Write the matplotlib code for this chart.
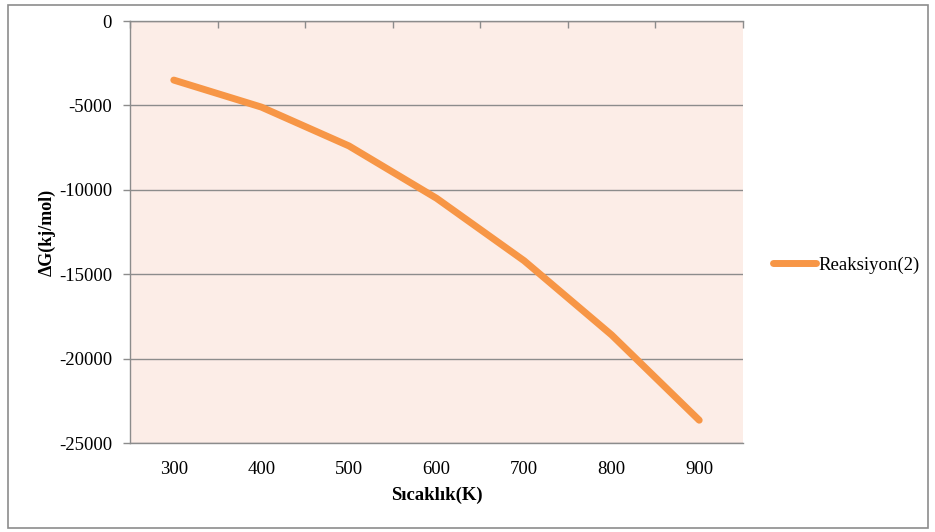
import matplotlib.pyplot as plt
from matplotlib.patches import Rectangle

plt.rcParams['font.family'] = ['Liberation Serif', 'DejaVu Serif']

temps = ['300', '400', '500', '600', '700', '800', '900']
dG = [-3500, -5100, -7400, -10500, -14200, -18600, -23650]
series_name = 'Reaksiyon(2)'
yticks = [0, -5000, -10000, -15000, -20000, -25000]

line_color = '#F79646'
grid_color = '#8C8C8C'
plot_bg = '#FCEDE7'

fig = plt.figure(figsize=(9.35, 5.32), dpi=100)
fig.patches.append(Rectangle((8 / 935, 4 / 532), 920 / 935, 523 / 532,
                             transform=fig.transFigure, fill=False,
                             edgecolor='#8C8C8C', linewidth=1.2))

ax = fig.add_axes([130 / 935, 1 - 443 / 532, 613 / 935, 422 / 532])
ax.set_facecolor(plot_bg)

x = list(range(len(temps)))
ax.plot(x, dG, color=line_color, linewidth=5, solid_capstyle='round',
        solid_joinstyle='round', label=series_name)

ax.set_xlim(-0.5, len(temps) - 0.5)
ax.set_ylim(-25000, 0)
ax.set_yticks(yticks)
ax.set_yticklabels([str(v) for v in yticks])
ax.yaxis.grid(True, color=grid_color, linewidth=1)
ax.set_axisbelow(True)

# category labels at the bottom, boundary ticks on the axis line at zero (top)
ax.set_xticks(x)
ax.set_xticklabels(temps)
ax.set_xticks([i - 0.5 for i in range(len(temps) + 1)], minor=True)
ax.tick_params(axis='x', which='major', length=0, pad=13, labelsize=13.5)
ax.tick_params(axis='x', which='minor', bottom=False, top=True, direction='in',
               length=5, color=grid_color, width=1)
ax.tick_params(axis='y', length=5, color=grid_color, width=1, pad=8, labelsize=13.5)

ax.spines['right'].set_visible(False)
for side in ['left', 'top', 'bottom']:
    ax.spines[side].set_color(grid_color)
    ax.spines[side].set_linewidth(1)

ax.set_xlabel('Sıcaklık(K)', fontweight='bold', fontsize=13.5, labelpad=6)
ax.set_ylabel('ΔG(kj/mol)', fontweight='bold', fontsize=13, labelpad=2)

fig.legend(loc='center left', bbox_to_anchor=(756 / 935, 1 - 265 / 532),
           frameon=False, fontsize=13.5, handlelength=2.3, handletextpad=0.15)

fig.savefig('out.png', dpi=100)
